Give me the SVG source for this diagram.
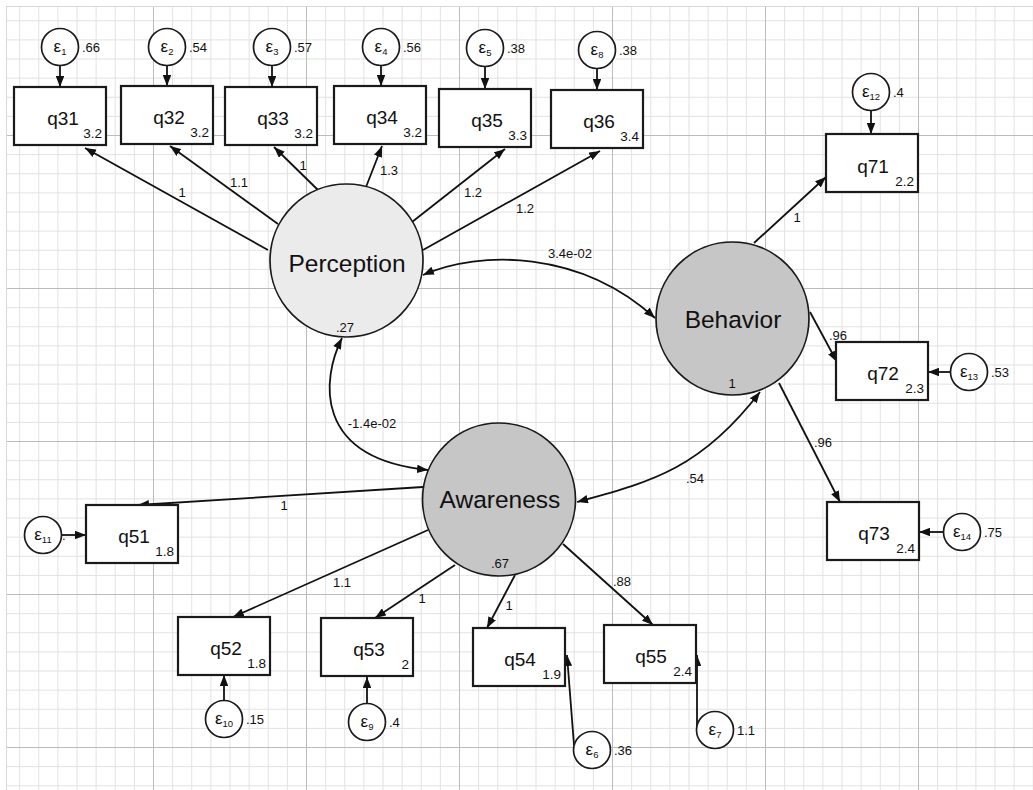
<svg xmlns="http://www.w3.org/2000/svg" width="1033" height="790" viewBox="0 0 1033 790">
<defs>
<pattern id="grid" patternUnits="userSpaceOnUse" x="0" y="135" width="153" height="153">
<g fill="#e2e2e2">
<rect x="19.125" y="0" width="1" height="153"/><rect x="38.25" y="0" width="1" height="153"/><rect x="57.375" y="0" width="1" height="153"/><rect x="76.5" y="0" width="1" height="153"/><rect x="95.625" y="0" width="1" height="153"/><rect x="114.75" y="0" width="1" height="153"/><rect x="133.875" y="0" width="1" height="153"/>
<rect y="19.125" x="0" height="1" width="153"/><rect y="38.25" x="0" height="1" width="153"/><rect y="57.375" x="0" height="1" width="153"/><rect y="76.5" x="0" height="1" width="153"/><rect y="95.625" x="0" height="1" width="153"/><rect y="114.75" x="0" height="1" width="153"/><rect y="133.875" x="0" height="1" width="153"/>
</g>
<g fill="#bcbcbc"><rect x="0" y="0" width="1" height="153"/><rect x="0" y="0" width="153" height="1"/></g>
</pattern>
<marker id="ah" viewBox="0 0 11 8.5" refX="11" refY="4.25" markerWidth="11" markerHeight="8.5" markerUnits="userSpaceOnUse" orient="auto-start-reverse"><path d="M0,0 L11,4.25 L0,8.5 z" fill="#111"/></marker>
</defs>
<style>
.lat{stroke:#1a1a1a;stroke-width:1.7}
.box{fill:#fff;stroke:#1a1a1a;stroke-width:2.2}
.err{fill:#fff;stroke:#1a1a1a;stroke-width:1.7}
.c{fill:none;stroke:#111;stroke-width:1.8;marker-end:url(#ah)}
.cb{fill:none;stroke:#111;stroke-width:1.8;marker-end:url(#ah);marker-start:url(#ah)}
text{font-family:"Liberation Sans",Arial,Helvetica,sans-serif;fill:#111}
.big{font-size:24.5px;text-anchor:middle}
.q{font-size:19px;text-anchor:middle}
.v{font-size:13.5px;text-anchor:end}
.s{font-size:13px}
.m{font-size:13px;text-anchor:middle}
.e{font-size:17px;text-anchor:middle}
.sub{font-size:9.5px}
</style>
<rect width="1033" height="790" fill="#fff"/>
<rect x="6" y="6" width="1027" height="784" fill="url(#grid)"/>
<path d="M6.5,6 V790 M6,6.5 H1033" stroke="#d8d8d8" stroke-width="1"/>

<g id="connectors">
<path class="c" d="M268,250 L85,148"/>
<path class="c" d="M278,224 L170,146"/>
<path class="c" d="M318,190 L274,147"/>
<path class="c" d="M366,187 L382,146"/>
<path class="c" d="M412,222 L505,149"/>
<path class="c" d="M423,250 L600,151"/>
<path class="c" d="M754,243 L826,177"/>
<path class="c" d="M810,312 L837,362"/>
<path class="c" d="M779,383 L840,502"/>
<path class="c" d="M423,487 L138,505"/>
<path class="c" d="M428,530 L233,617"/>
<path class="c" d="M455,565 L375,618"/>
<path class="c" d="M515,575 L487,628"/>
<path class="c" d="M563,544 L653,625"/>
<path class="cb" d="M423,275 C480,250 580,250 655,318"/>
<path class="cb" d="M342,338 C322,378 312,458 428,470"/>
<path class="cb" d="M577,502 C650,482 700,470 760,392"/>
<path class="c" d="M60,65.5 L60,87"/>
<path class="c" d="M167,65.5 L167,86"/>
<path class="c" d="M272,65.5 L272,87"/>
<path class="c" d="M381,65.5 L381,86"/>
<path class="c" d="M485,66.5 L485,89"/>
<path class="c" d="M597,68.5 L597,90"/>
<path class="c" d="M871,110.5 L871,134"/>
<path class="c" d="M950.5,372 L928,372"/>
<path class="c" d="M943.5,532 L919,532"/>
<path class="c" d="M61.5,535 L86,535"/>
<path class="c" d="M224,700.5 L224,675"/>
<path class="c" d="M367,703.5 L367,677"/>
<path class="c" d="M574,745 L567,655"/>
<path class="c" d="M697,730 L697,655"/>
<text class="m" x="182" y="197">1</text>
<text class="m" x="239" y="187">1.1</text>
<text class="m" x="303" y="170">1</text>
<text class="m" x="389" y="175">1.3</text>
<text class="m" x="473" y="197">1.2</text>
<text class="m" x="525" y="213">1.2</text>
<text class="m" x="570" y="258">3.4e-02</text>
<text class="m" x="372" y="428">-1.4e-02</text>
<text class="m" x="695" y="483">.54</text>
<text class="m" x="797" y="222">1</text>
<text class="m" x="838" y="340">.96</text>
<text class="m" x="823" y="447">.96</text>
<text class="m" x="284" y="510">1</text>
<text class="m" x="342" y="587">1.1</text>
<text class="m" x="422" y="603">1</text>
<text class="m" x="509" y="610">1</text>
<text class="m" x="622" y="586">.88</text>
</g>

<g id="Perception"><circle class="lat" cx="346.5" cy="260.5" r="76.5" fill="#ebebeb"/><text class="big" x="347" y="272">Perception</text><text class="m" x="345" y="332">.27</text></g>
<g id="Behavior"><circle class="lat" cx="732.5" cy="318.5" r="76.5" fill="#c6c6c6"/><text class="big" x="733" y="328">Behavior</text><text class="m" x="732" y="388">1</text></g>
<g id="Awareness"><circle class="lat" cx="499" cy="499.5" r="76.5" fill="#c6c6c6"/><text class="big" x="500" y="508">Awareness</text><text class="m" x="500" y="568">.67</text></g>

<g id="q31"><rect class="box" x="14" y="87" width="92" height="58"/><text class="q" x="63" y="125">q31</text><text class="v" x="102" y="138">3.2</text></g>
<g id="q32"><rect class="box" x="121" y="86" width="92" height="58"/><text class="q" x="169" y="124">q32</text><text class="v" x="209" y="137">3.2</text></g>
<g id="q33"><rect class="box" x="225" y="87" width="92" height="58"/><text class="q" x="273" y="125">q33</text><text class="v" x="313" y="138">3.2</text></g>
<g id="q34"><rect class="box" x="334" y="86" width="92" height="58"/><text class="q" x="382" y="124">q34</text><text class="v" x="422" y="137">3.2</text></g>
<g id="q35"><rect class="box" x="439" y="89" width="92" height="58"/><text class="q" x="487" y="127">q35</text><text class="v" x="527" y="140">3.3</text></g>
<g id="q36"><rect class="box" x="551" y="90" width="92" height="58"/><text class="q" x="599" y="128">q36</text><text class="v" x="639" y="141">3.4</text></g>
<g id="q71"><rect class="box" x="826" y="134" width="92" height="58"/><text class="q" x="873" y="173">q71</text><text class="v" x="914" y="186">2.2</text></g>
<g id="q72"><rect class="box" x="836" y="342" width="92" height="58"/><text class="q" x="883" y="380">q72</text><text class="v" x="924" y="393">2.3</text></g>
<g id="q73"><rect class="box" x="827" y="502" width="92" height="58"/><text class="q" x="874" y="540">q73</text><text class="v" x="915" y="553">2.4</text></g>
<g id="q51"><rect class="box" x="86" y="505" width="92" height="58"/><text class="q" x="134" y="543">q51</text><text class="v" x="174" y="556">1.8</text></g>
<g id="q52"><rect class="box" x="178" y="617" width="92" height="58"/><text class="q" x="226" y="655">q52</text><text class="v" x="266" y="668">1.8</text></g>
<g id="q53"><rect class="box" x="321" y="618" width="92" height="58"/><text class="q" x="369" y="656">q53</text><text class="v" x="409" y="669">2</text></g>
<g id="q54"><rect class="box" x="473" y="628" width="92" height="58"/><text class="q" x="520" y="666">q54</text><text class="v" x="561" y="679">1.9</text></g>
<g id="q55"><rect class="box" x="604" y="625" width="92" height="58"/><text class="q" x="651" y="663">q55</text><text class="v" x="692" y="676">2.4</text></g>

<g id="e1"><circle class="err" cx="60" cy="47" r="18.5"/><text class="e" x="60" y="52">ε<tspan class="sub" dy="3">1</tspan></text><text class="s" x="82" y="52">.66</text></g>
<g id="e2"><circle class="err" cx="167" cy="47" r="18.5"/><text class="e" x="167" y="52">ε<tspan class="sub" dy="3">2</tspan></text><text class="s" x="189" y="52">.54</text></g>
<g id="e3"><circle class="err" cx="272" cy="47" r="18.5"/><text class="e" x="272" y="52">ε<tspan class="sub" dy="3">3</tspan></text><text class="s" x="294" y="52">.57</text></g>
<g id="e4"><circle class="err" cx="381" cy="47" r="18.5"/><text class="e" x="381" y="52">ε<tspan class="sub" dy="3">4</tspan></text><text class="s" x="403" y="52">.56</text></g>
<g id="e5"><circle class="err" cx="485" cy="48" r="18.5"/><text class="e" x="485" y="53">ε<tspan class="sub" dy="3">5</tspan></text><text class="s" x="507" y="53">.38</text></g>
<g id="e8"><circle class="err" cx="597" cy="50" r="18.5"/><text class="e" x="597" y="55">ε<tspan class="sub" dy="3">8</tspan></text><text class="s" x="619" y="55">.38</text></g>
<g id="e12"><circle class="err" cx="871" cy="92" r="18.5"/><text class="e" x="871" y="97">ε<tspan class="sub" dy="3">12</tspan></text><text class="s" x="893" y="97">.4</text></g>
<g id="e13"><circle class="err" cx="969" cy="372" r="18.5"/><text class="e" x="969" y="377">ε<tspan class="sub" dy="3">13</tspan></text><text class="s" x="991" y="377">.53</text></g>
<g id="e14"><circle class="err" cx="962" cy="532" r="18.5"/><text class="e" x="962" y="537">ε<tspan class="sub" dy="3">14</tspan></text><text class="s" x="984" y="537">.75</text></g>
<g id="e11"><circle class="err" cx="43" cy="535" r="18.5"/><text class="e" x="43" y="540">ε<tspan class="sub" dy="3">11</tspan></text></g>
<g id="e10"><circle class="err" cx="224" cy="719" r="18.5"/><text class="e" x="224" y="724">ε<tspan class="sub" dy="3">10</tspan></text><text class="s" x="246" y="724">.15</text></g>
<g id="e9"><circle class="err" cx="367" cy="722" r="18.5"/><text class="e" x="367" y="727">ε<tspan class="sub" dy="3">9</tspan></text><text class="s" x="389" y="727">.4</text></g>
<g id="e6"><circle class="err" cx="592" cy="750" r="18.5"/><text class="e" x="592" y="755">ε<tspan class="sub" dy="3">6</tspan></text><text class="s" x="614" y="755">.36</text></g>
<g id="e7"><circle class="err" cx="715" cy="730" r="18.5"/><text class="e" x="715" y="735">ε<tspan class="sub" dy="3">7</tspan></text><text class="s" x="737" y="735">1.1</text></g>
<text class="s" x="62" y="540">.</text>
</svg>
